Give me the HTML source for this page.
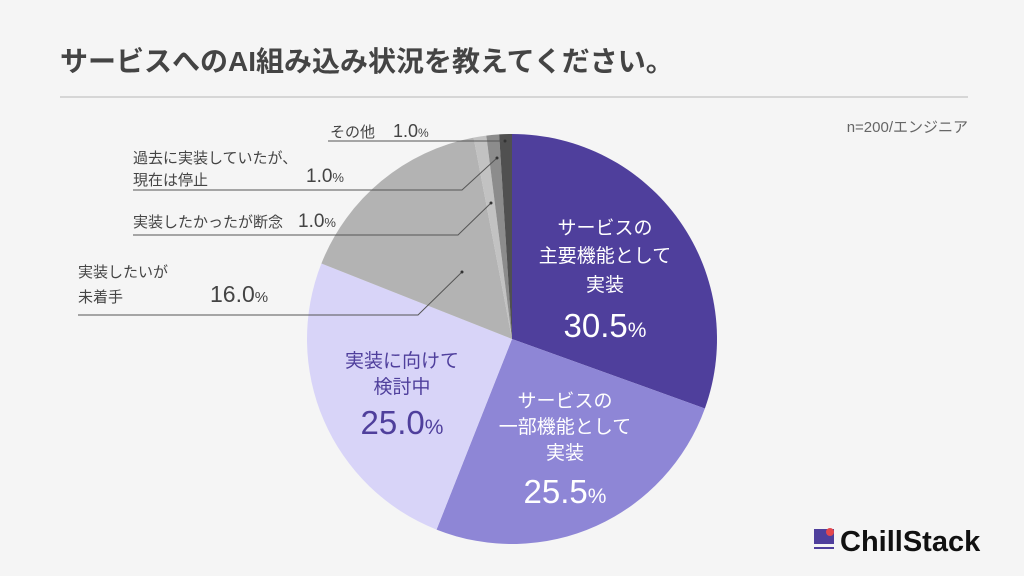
<!DOCTYPE html>
<html><head><meta charset="utf-8"><style>
html,body{margin:0;padding:0;background:#f5f5f5;}
svg{display:block;font-family:"Liberation Sans","Noto Sans CJK JP",sans-serif;}
</style></head><body>
<svg id="s" width="1024" height="576" viewBox="0 0 1024 576">
<rect width="1024" height="576" fill="#f5f5f5"/>
<text x="60" y="71" font-size="28" font-weight="bold" fill="#444">サービスへのAI組み込み状況を教えてください。</text>
<line x1="60" y1="97" x2="968" y2="97" stroke="#d6d6d6" stroke-width="2"/>
<text x="968" y="132" font-size="15" fill="#666" text-anchor="end">n=200/エンジニア</text>
<g id="pie"></g>
<g fill="#fff" text-anchor="middle" font-size="19">
<text x="605" y="234">サービスの</text>
<text x="605" y="262">主要機能として</text>
<text x="605" y="291">実装</text>
<text x="605" y="337" font-size="33">30.5<tspan font-size="21">%</tspan></text>
<text x="565" y="407">サービスの</text>
<text x="565" y="433">一部機能として</text>
<text x="565" y="459">実装</text>
<text x="565" y="503" font-size="33">25.5<tspan font-size="21">%</tspan></text>
</g>
<g fill="#4f3f9c" text-anchor="middle" font-size="19">
<text x="402" y="367">実装に向けて</text>
<text x="402" y="393">検討中</text>
<text x="402" y="434" font-size="33">25.0<tspan font-size="21">%</tspan></text>
</g>
<g stroke="#555" stroke-width="1" fill="none">
<polyline points="328,141 505,141"/>
<polyline points="133,190 462,190 497,158"/>
<polyline points="133,235 458,235 491,203"/>
<polyline points="78,315 418,315 462,272"/>
</g>
<g fill="#333"><circle cx="505" cy="141" r="1.5"/><circle cx="497" cy="158" r="1.5"/><circle cx="491" cy="203" r="1.5"/><circle cx="462" cy="272" r="1.5"/></g>
<g fill="#444" font-size="15">
<text x="330" y="137">その他</text><text x="393" y="137" font-size="18">1.0<tspan font-size="12">%</tspan></text>
<text x="133" y="163">過去に実装していたが、</text>
<text x="133" y="185">現在は停止</text><text x="306" y="182" font-size="19">1.0<tspan font-size="13">%</tspan></text>
<text x="133" y="227">実装したかったが断念</text><text x="298" y="227" font-size="19">1.0<tspan font-size="13">%</tspan></text>
<text x="78" y="277">実装したいが</text>
<text x="78" y="302">未着手</text><text x="210" y="302" font-size="23">16.0<tspan font-size="15">%</tspan></text>
</g>
<rect x="814" y="529" width="20" height="15" fill="#4f3f9c"/>
<circle cx="830" cy="532" r="4" fill="#e5484d"/>
<rect x="814" y="547" width="20" height="2" fill="#4f3f9c"/>
<text x="840" y="551" font-size="29" font-weight="bold" fill="#111">ChillStack</text>
</svg>
<script>
var cx=512,cy=339,r=205;
var data=[[30.5,"#4f3f9c"],[25.5,"#8e86d6"],[25.0,"#d8d4f8"],[16.0,"#b3b3b3"],[1,"#c2c2c2"],[1,"#8c8c8c"],[1,"#505050"]];
var a=-Math.PI/2,g=document.getElementById("pie"),h="";
data.forEach(function(d){var b=a+d[0]/100*2*Math.PI;
var x1=cx+r*Math.cos(a),y1=cy+r*Math.sin(a),x2=cx+r*Math.cos(b),y2=cy+r*Math.sin(b);
h+='<path d="M'+cx+','+cy+' L'+x1+','+y1+' A'+r+','+r+' 0 '+(d[0]>50?1:0)+' 1 '+x2+','+y2+' Z" fill="'+d[1]+'"/>';a=b;});
g.innerHTML=h;
</script>
</body></html>
